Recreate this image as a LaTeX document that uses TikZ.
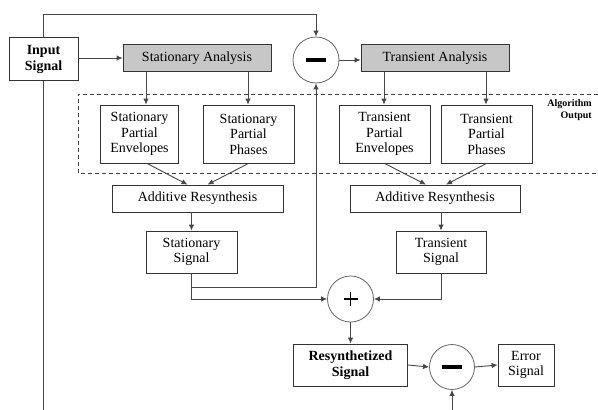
\documentclass[tikz,border=0pt]{standalone}
\usepackage{fontspec}
\setmainfont{Liberation Serif}
\usetikzlibrary{arrows.meta}
\begin{document}
\begin{tikzpicture}[x=1pt,y=-1pt,
  box/.style={draw=black!80, line width=0.8pt, align=center, inner sep=0pt,
    font=\fontsize{14}{15.5}\selectfont},
  bbox/.style={box, font=\fontsize{14}{16}\selectfont\bfseries},
  ana/.style={box, fill=black!22},
  circ/.style={circle, draw=black!60, line width=0.8pt, minimum size=45pt, inner sep=0pt},
  ln/.style={draw=black!72, line width=0.9pt},
  arr/.style={ln, -{Latex[length=6pt,width=5.5pt]}},
]
\useasboundingbox (0,0) rectangle (598,410);

% dashed algorithm-output region
\draw[black!75, line width=0.8pt, dash pattern=on 4pt off 3pt] (598,94) -- (78,94) -- (78,173) -- (598,173);
\node[anchor=north east, align=right, inner sep=0pt, font=\fontsize{10}{12}\selectfont\bfseries] (ao) at (592,99) {Algorithm\\Output};

% nodes
\node[bbox, minimum width=69pt, minimum height=43pt] (in) at (43.5,59) {Input\\Signal};
\node[ana, minimum width=148pt, minimum height=27pt] (sa) at (197,58) {Stationary Analysis};
\node[circ, minimum size=46pt] (m1) at (316,60) {};
\node[ana, minimum width=148pt, minimum height=27pt] (ta) at (435,58) {Transient Analysis};

\node[box, minimum width=78pt, minimum height=58pt] (spe) at (139.5,134) {Stationary\\Partial\\Envelopes};
\node[box, minimum width=91pt, minimum height=58pt] (spp) at (248.5,134) {Stationary\\Partial\\Phases};
\node[box, minimum width=91pt, minimum height=58pt] (tpe) at (384.5,134) {Transient\\Partial\\Envelopes};
\node[box, minimum width=91pt, minimum height=58pt] (tpp) at (486.5,134) {Transient\\Partial\\Phases};

\node[box, minimum width=171pt, minimum height=27pt] (ar1) at (197.5,198.5) {Additive Resynthesis};
\node[box, minimum width=170pt, minimum height=27pt] (ar2) at (435,198.5) {Additive Resynthesis};

\node[box, minimum width=91pt, minimum height=42pt] (ss) at (191.5,252) {Stationary\\Signal};
\node[box, minimum width=90pt, minimum height=42pt] (ts) at (441,252) {Transient\\Signal};

\node[circ, minimum size=46pt] (pl) at (350.5,299) {};
\node[bbox, minimum width=114pt, minimum height=42pt] (rs) at (350.5,365) {Resynthetized\\Signal};
\node[circ, minimum size=45pt] (m2) at (452,367) {};
\node[box, minimum width=56pt, minimum height=42pt] (es) at (526,365) {Error\\Signal};

% signs
\fill[black] ([xshift=-10pt,yshift=-2.2pt]m1.center) rectangle ([xshift=10pt,yshift=2.2pt]m1.center);
\fill[black] ([xshift=-10pt,yshift=-2.2pt]m2.center) rectangle ([xshift=10pt,yshift=2.2pt]m2.center);
\draw[black, line width=1.2pt] ([xshift=-7pt]pl.center) -- ([xshift=7pt]pl.center)
  ([yshift=-7pt]pl.center) -- ([yshift=7pt]pl.center);

% coordinates for free ends
\coordinate (tl) at (43.5,14);
\coordinate (bl) at (43.5,410);
\coordinate (bb) at (452,410);
\coordinate (sp) at (191.5,287);

% connectors
\draw[arr] (in.north) -- (tl) -| (m1.north);
\draw[ln] (in.south) -- (bl);
\draw[arr] (in.east |- sa.west) -- (sa.west);
\draw[arr] (m1.east) -- (m1.east -| ta.west);

\draw[arr] ([xshift=-51pt]sa.south) -- ([xshift=-51pt]sa.south |- spe.north);
\draw[arr] ([xshift=51pt]sa.south) -- ([xshift=51pt]sa.south |- spp.north);
\draw[arr] ([xshift=-51pt]ta.south) -- ([xshift=-51pt]ta.south |- tpe.north);
\draw[arr] ([xshift=51pt]ta.south) -- ([xshift=51pt]ta.south |- tpp.north);

\draw[arr] ([xshift=7.5pt]spe.south) -- ([xshift=-10pt]ar1.north);
\draw[arr] (spp.south) -- ([xshift=10pt]ar1.north);
\draw[arr] (tpe.south) -- ([xshift=-9pt]ar2.north);
\draw[arr] (tpp.south) -- ([xshift=11pt]ar2.north);

\draw[arr] (ar1.south -| ss.north) -- (ss.north);
\draw[arr] (ar2.south -| ts.north) -- (ts.north);

\draw[arr] (ss.south) -- (sp) -| (m1.south);
\draw[arr] (sp) |- (pl.west);
\draw[arr] (ts.south) |- (pl.east);

\draw[arr] (pl.south) -- (rs.north);
\draw[arr] (rs.east) -- (m2.west);
\draw[arr] (m2.east) -- (es.west);
\draw[arr] (bb) -- (m2.south);
\end{tikzpicture}
\end{document}
